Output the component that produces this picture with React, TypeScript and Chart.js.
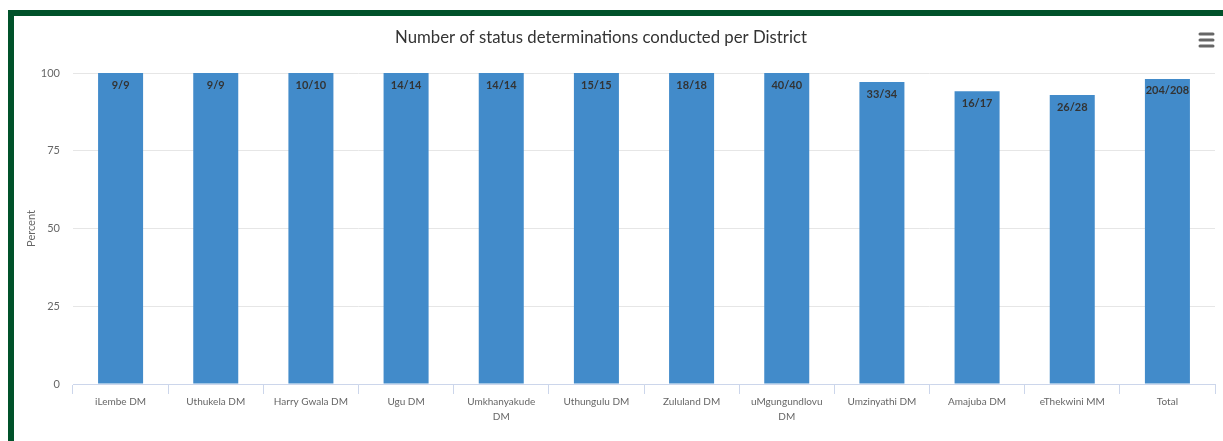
import React, { useEffect, useRef } from "react";
import { Chart, registerables } from "chart.js";

Chart.register(...registerables);

const categories: (string | string[])[] = [
  "iLembe DM",
  "Uthukela DM",
  "Harry Gwala DM",
  "Ugu DM",
  ["Umkhanyakude", "DM"],
  "Uthungulu DM",
  "Zululand DM",
  ["uMgungundlovu", "DM"],
  "Umzinyathi DM",
  "Amajuba DM",
  "eThekwini MM",
  "Total",
];

const percentValues = [100, 100, 100, 100, 100, 100, 100, 100, 97.1, 94.1, 92.9, 98.1];

const barLabels = ["9/9", "9/9", "10/10", "14/14", "14/14", "15/15", "18/18", "40/40", "33/34", "16/17", "26/28", "204/208"];

const yTicks = [0, 25, 50, 75, 100];

const titleText = "Number of status determinations conducted per District";

const FONT = "Lato, 'Open Sans', sans-serif";

const extrasPlugin = {
  id: "extras",
  afterDatasetsDraw(chart: any) {
    const ctx = chart.ctx;
    const meta = chart.getDatasetMeta(0);
    ctx.save();
    ctx.font = `bold 11px ${FONT}`;
    ctx.fillStyle = "#333333";
    ctx.textAlign = "center";
    ctx.textBaseline = "middle";
    meta.data.forEach((bar: any, i: number) => {
      ctx.fillText(barLabels[i], bar.x, bar.y + 12);
    });
    ctx.restore();
  },
  afterDraw(chart: any) {
    const ctx = chart.ctx;
    ctx.save();
    ctx.font = `18px ${FONT}`;
    ctx.fillStyle = "#333333";
    ctx.textAlign = "center";
    ctx.textBaseline = "middle";
    ctx.fillText(titleText, 587, 21, 412);
    // menu icon
    ctx.strokeStyle = "#666666";
    ctx.lineWidth = 3;
    ctx.lineCap = "round";
    [18, 24, 30].forEach((y) => {
      ctx.beginPath();
      ctx.moveTo(1186, y);
      ctx.lineTo(1199, y);
      ctx.stroke();
    });
    ctx.restore();
  },
};

export default function App() {
  const ref = useRef<HTMLCanvasElement>(null);
  useEffect(() => {
    if (!ref.current) return;
    const chart = new Chart(ref.current, {
      type: "bar",
      data: {
        labels: categories,
        datasets: [
          {
            data: percentValues,
            backgroundColor: "#428bca",
            borderWidth: 0,
            categoryPercentage: 1,
            barPercentage: 0.473,
          },
        ],
      },
      options: {
        responsive: false,
        animation: false,
        layout: { padding: { top: 57, right: 8, left: 0, bottom: 0 } },
        plugins: {
          legend: { display: false },
          tooltip: { enabled: false },
          title: { display: false },
        },
        scales: {
          x: {
            grid: {
              offset: true,
              drawOnChartArea: false,
              drawTicks: true,
              tickLength: 10,
              color: "#ccd6eb",
            },
            border: { display: true, color: "#ccd6eb" },
            ticks: {
              color: "#666666",
              font: { family: FONT, size: 10, lineHeight: "15px" },
              padding: 0,
              maxRotation: 0,
              autoSkip: false,
            },
            afterFit(scale: any) {
              scale.height = 57;
            },
          },
          y: {
            min: 0,
            max: 100,
            afterBuildTicks(scale: any) {
              scale.ticks = yTicks.map((v) => ({ value: v }));
            },
            grid: { color: "#e6e6e6", drawTicks: false },
            border: { display: false },
            ticks: {
              color: "#666666",
              font: { family: FONT, size: 11 },
              padding: 13,
            },
            title: {
              display: true,
              text: "Percent",
              color: "#666666",
              font: { family: FONT, size: 11 },
              padding: { top: 11, bottom: 0 },
            },
            afterFit(scale: any) {
              scale.width = 59;
            },
          },
        },
      },
      plugins: [extrasPlugin],
    });
    return () => chart.destroy();
  }, []);

  return (
    <div
      style={{
        position: "absolute",
        left: 8,
        top: 10,
        width: 1209,
        height: 425,
        borderTop: "6px solid #00522a",
        borderLeft: "6px solid #00522a",
        background: "#ffffff",
      }}
    >
      <canvas ref={ref} width={1209} height={425} style={{ display: "block" }} />
    </div>
  );
}
